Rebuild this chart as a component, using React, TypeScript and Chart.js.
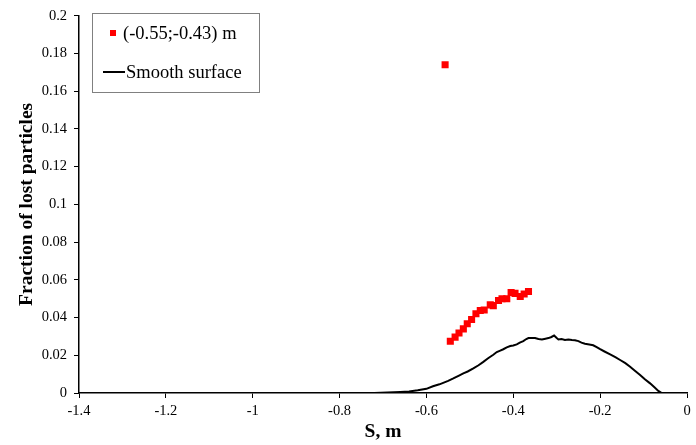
import React, { useEffect, useRef } from "react";
import { Chart, registerables } from "chart.js";

Chart.register(...registerables);

// Red series: (-0.55;-0.43) m
const redX = [-0.557, -0.545, -0.534, -0.525, -0.515, -0.506, -0.496, -0.486, -0.476, -0.467, -0.453, -0.446, -0.434, -0.426, -0.415, -0.405, -0.396, -0.384, -0.375, -0.365];
const redY = [0.174, 0.0274, 0.0296, 0.0318, 0.034, 0.0367, 0.039, 0.042, 0.0437, 0.044, 0.0467, 0.0463, 0.049, 0.05, 0.05, 0.0533, 0.0528, 0.0512, 0.0525, 0.0538];

// Black series: Smooth surface
const smoothX = [-0.78, -0.75, -0.72, -0.69, -0.66, -0.64, -0.62, -0.6, -0.585, -0.57, -0.56, -0.55, -0.538, -0.525, -0.515, -0.505, -0.492, -0.48, -0.469, -0.458, -0.446, -0.438, -0.43, -0.423, -0.415, -0.407, -0.4, -0.392, -0.385, -0.377, -0.37, -0.365, -0.357, -0.35, -0.342, -0.334, -0.326, -0.319, -0.312, -0.306, -0.3, -0.296, -0.289, -0.281, -0.273, -0.265, -0.258, -0.25, -0.243, -0.235, -0.225, -0.216, -0.208, -0.2, -0.19, -0.177, -0.165, -0.154, -0.142, -0.131, -0.12, -0.108, -0.097, -0.085, -0.075, -0.066, -0.058];
const smoothY = [0, 0, 0, 0.0002, 0.0005, 0.0008, 0.0014, 0.0022, 0.0036, 0.0046, 0.0055, 0.0064, 0.0077, 0.0092, 0.0104, 0.0114, 0.013, 0.0147, 0.0165, 0.0184, 0.0203, 0.0217, 0.0225, 0.0232, 0.0242, 0.0249, 0.0252, 0.0258, 0.0267, 0.0275, 0.0286, 0.0291, 0.0292, 0.0291, 0.0286, 0.0284, 0.0288, 0.0291, 0.0297, 0.0305, 0.0292, 0.0284, 0.0286, 0.0281, 0.0284, 0.0281, 0.028, 0.0275, 0.0267, 0.0261, 0.0257, 0.0253, 0.0243, 0.0232, 0.022, 0.0205, 0.019, 0.0175, 0.0158, 0.0139, 0.0118, 0.0096, 0.0073, 0.0051, 0.003, 0.0011, 0];

const legendLabels = ["(-0.55;-0.43) m", "Smooth surface"];
const xTitle = "S, m";
const yTitle = "Fraction of lost particles";

const FONT = "'Liberation Serif', 'Times New Roman', serif";

const legendPlugin = {
  id: "customLegend",
  afterDraw(chart: any) {
    const ctx = chart.ctx;
    ctx.save();
    ctx.strokeStyle = "#808080";
    ctx.lineWidth = 1;
    ctx.strokeRect(92.5, 13.5, 167, 79);
    ctx.font = `18.5px ${FONT}`;
    ctx.fillStyle = "#000";
    ctx.textBaseline = "middle";
    ctx.textAlign = "left";
    ctx.fillStyle = "#ff0000";
    ctx.fillRect(110, 30, 6, 6);
    ctx.fillStyle = "#000";
    ctx.fillText(legendLabels[0], 123, 34);
    ctx.strokeStyle = "#000";
    ctx.lineWidth = 2;
    ctx.beginPath();
    ctx.moveTo(103, 72);
    ctx.lineTo(125, 72);
    ctx.stroke();
    ctx.fillText(legendLabels[1], 126, 73);
    ctx.restore();
  },
};

export default function App() {
  const ref = useRef<HTMLCanvasElement>(null);
  useEffect(() => {
    if (!ref.current) return;
    const chart = new Chart(ref.current, {
      type: "scatter",
      data: {
        datasets: [
          {
            label: legendLabels[1],
            data: smoothX.map((x, i) => ({ x, y: smoothY[i] })),
            showLine: true,
            borderColor: "#000",
            borderWidth: 2,
            pointRadius: 0,
            tension: 0,
          },
          {
            label: legendLabels[0],
            data: redX.map((x, i) => ({ x, y: redY[i] })),
            showLine: false,
            pointStyle: "rect",
            pointRadius: 5,
            pointBorderWidth: 0,
            backgroundColor: "#ff0000",
            borderColor: "#ff0000",
          },
        ],
      },
      options: {
        responsive: false,
        maintainAspectRatio: false,
        animation: false,
        devicePixelRatio: 1,
        layout: { padding: { top: 13, right: 9, left: 0, bottom: 0 } },
        plugins: { legend: { display: false }, tooltip: { enabled: false } },
        scales: {
          x: {
            type: "linear",
            min: -1.4,
            max: 0,
            afterFit: (s: any) => {
              s.height = 52;
            },
            ticks: {
              stepSize: 0.2,
              color: "#000",
              font: { family: FONT, size: 14.5 },
              padding: 4,
              maxRotation: 0,
              callback: (v: any) => String(Math.round(Number(v) * 10) / 10),
            },
            grid: { drawOnChartArea: false, drawTicks: true, tickLength: 5, color: "#000" },
            border: { display: true, color: "#000", width: 1.5 },
            title: {
              display: true,
              text: xTitle,
              color: "#000",
              font: { family: FONT, size: 19.5, weight: "bold" },
              padding: { top: 0, bottom: 1 },
            },
          },
          y: {
            type: "linear",
            min: 0,
            max: 0.2,
            afterFit: (s: any) => {
              s.width = 79;
            },
            ticks: {
              stepSize: 0.02,
              color: "#000",
              font: { family: FONT, size: 14.5 },
              padding: 7,
              callback: (v: any) => String(Math.round(Number(v) * 100) / 100),
            },
            grid: { drawOnChartArea: false, drawTicks: true, tickLength: 5, color: "#000" },
            border: { display: true, color: "#000", width: 1.5 },
            title: {
              display: true,
              text: yTitle,
              color: "#000",
              font: { family: FONT, size: 19.5, weight: "bold" },
              padding: { top: 15, bottom: 0 },
            },
          },
        },
      },
      plugins: [legendPlugin],
    });
    return () => chart.destroy();
  }, []);
  return (
    <div style={{ position: "absolute", left: 0, top: 0, width: 696, height: 445, background: "#fff" }}>
      <canvas ref={ref} width={696} height={445} style={{ display: "block" }} />
    </div>
  );
}
